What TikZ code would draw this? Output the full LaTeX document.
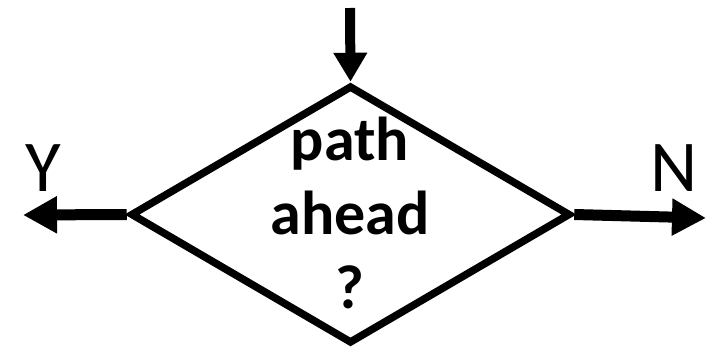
\documentclass[tikz,border=0pt]{standalone}
\usepackage{fontspec}
\setmainfont{Carlito}
\usetikzlibrary{arrows.meta,shapes.geometric}

\begin{document}
\begin{tikzpicture}[x=1pt,y=-1pt,
    flow/.style={line width=11pt,-{Triangle[length=34pt,width=35pt]}},
    decision/.style={diamond,draw,line width=7.5pt,inner sep=0pt,
      minimum width=440pt,minimum height=258pt}]
        \useasboundingbox (0,0) rectangle (721,351);
        \node (dec) [decision] at (350.5,214.5) {};
        \node (q) at (350,213) [align=center,
          font=\fontsize{62}{74}\selectfont\bfseries] {path\\ahead\\?};
        \node (yes) at (43,168) {\fontsize{73}{80}\selectfont Y};
        \node (no) at (674,168) {\fontsize{73}{80}\selectfont N};

        \coordinate (in) at (350,8);
        \coordinate (ytip) at (23,215);
        \coordinate (ntip) at (706,218);
        \draw [flow, line width=10pt, -{Triangle[length=29pt,width=32pt]}] (in) -- (dec.north);
        \draw [flow] (dec.west) -- (ytip);
        \draw [flow] (dec.east) -- (ntip);
    \end{tikzpicture}
\end{document}
